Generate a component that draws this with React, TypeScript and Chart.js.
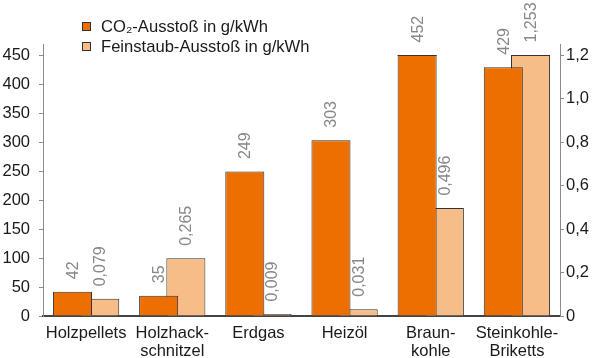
import React, { useEffect, useRef } from 'react';
import { Chart, registerables } from 'chart.js';

Chart.register(...registerables);

const categories: string[][] = [
  ['Holzpellets'],
  ['Holzhack-', 'schnitzel'],
  ['Erdgas'],
  ['Heizöl'],
  ['Braun-', 'kohle'],
  ['Steinkohle-', 'Briketts'],
];
const co2Values = [42, 35, 249, 303, 452, 429];
const dustValues = [0.079, 0.265, 0.009, 0.031, 0.496, 1.253];
const seriesNames = ['CO₂-Ausstoß in g/kWh', 'Feinstaub-Ausstoß in g/kWh'];
const leftAxis = { min: 0, max: 450, step: 50 };
const rightAxis = { min: 0, max: 1.2, step: 0.2 };

const DARK = '#ED6F02';
const LIGHT = '#F7BD89';
const FONT = "'Liberation Sans', Arial, sans-serif";

const fmtDust = (v: number) => v.toFixed(3).replace('.', ',');

const overlayPlugin = {
  id: 'overlay',
  afterDatasetsDraw(chart: any) {
    const { ctx, chartArea } = chart;
    ctx.save();
    chart.data.datasets.forEach((ds: any, di: number) => {
      const meta = chart.getDatasetMeta(di);
      meta.data.forEach((el: any, i: number) => {
        const top = Math.max(el.y, chartArea.top);
        if (el.y < chartArea.top) {
          ctx.strokeStyle = '#333';
          ctx.lineWidth = 1;
          ctx.beginPath();
          ctx.moveTo(el.x - el.width / 2, chartArea.top + 0.5);
          ctx.lineTo(el.x + el.width / 2, chartArea.top + 0.5);
          ctx.stroke();
        }
        const raw = ds.data[i] as number;
        const text = di === 0 ? String(raw) : fmtDust(raw);
        ctx.save();
        ctx.translate(el.x + 1, top - 12.5);
        ctx.rotate(-Math.PI / 2);
        ctx.fillStyle = '#878787';
        ctx.font = `16px ${FONT}`;
        ctx.textAlign = 'left';
        ctx.textBaseline = 'middle';
        ctx.fillText(text, 0, 0);
        ctx.restore();
      });
    });
    ctx.restore();
  },
  afterDraw(chart: any) {
    const { ctx, chartArea } = chart;
    ctx.save();
    // axis line extensions above the top tick
    ctx.strokeStyle = '#8c8c8c';
    ctx.lineWidth = 1;
    ctx.beginPath();
    ctx.moveTo(Math.round(chartArea.left) + 0.5, 44);
    ctx.lineTo(Math.round(chartArea.left) + 0.5, chartArea.top);
    ctx.moveTo(Math.round(chartArea.right) + 0.5, 44);
    ctx.lineTo(Math.round(chartArea.right) + 0.5, chartArea.top);
    ctx.stroke();
    // legend
    const colors = [DARK, LIGHT];
    ctx.font = `16.6px ${FONT}`;
    ctx.textBaseline = 'middle';
    ctx.textAlign = 'left';
    seriesNames.forEach((name, i) => {
      const y = 22 + i * 20;
      ctx.fillStyle = colors[i];
      ctx.fillRect(82, y, 9, 9);
      ctx.strokeStyle = '#333';
      ctx.strokeRect(82.5, y + 0.5, 8, 8);
      ctx.fillStyle = '#1a1a1a';
      ctx.fillText(name, 101, y + 5);
    });
    ctx.restore();
  },
};

export default function App() {
  const ref = useRef<HTMLCanvasElement>(null);
  useEffect(() => {
    if (!ref.current) return;
    const chart = new Chart(ref.current, {
      type: 'bar',
      data: {
        labels: categories,
        datasets: [
          {
            label: seriesNames[0],
            data: co2Values,
            backgroundColor: DARK,
            borderColor: '#333',
            borderWidth: 1,
            yAxisID: 'y',
            categoryPercentage: 0.632,
            barPercentage: 1.434,
          },
          {
            label: seriesNames[1],
            data: dustValues,
            backgroundColor: LIGHT,
            borderColor: '#333',
            borderWidth: 1,
            yAxisID: 'y1',
            categoryPercentage: 0.632,
            barPercentage: 1.434,
          },
        ],
      },
      options: {
        responsive: false,
        maintainAspectRatio: false,
        animation: false,
        layout: { padding: { top: 55, left: 0, right: 0, bottom: 0 } },
        plugins: { legend: { display: false }, tooltip: { enabled: false } },
        scales: {
          x: {
            grid: { display: false },
            border: { display: true, color: '#444', width: 2 },
            ticks: {
              color: '#1a1a1a',
              font: { family: FONT, size: 16.5, lineHeight: 1.12 },
              padding: 0,
              maxRotation: 0,
              autoSkip: false,
            },
            afterFit: (s: any) => {
              s.height = 42;
            },
          },
          y: {
            position: 'left',
            min: leftAxis.min,
            max: leftAxis.max,
            grid: { display: true, drawOnChartArea: false, drawTicks: true, tickLength: 4, color: '#8c8c8c' },
            border: { display: true, color: '#8c8c8c', width: 1 },
            ticks: {
              stepSize: leftAxis.step,
              color: '#1a1a1a',
              font: { family: FONT, size: 16.5 },
              padding: 9,
            },
            afterFit: (s: any) => {
              s.width = 43;
            },
          },
          y1: {
            position: 'right',
            min: rightAxis.min,
            max: rightAxis.max,
            grid: { display: true, drawOnChartArea: false, drawTicks: true, tickLength: 4, color: '#8c8c8c' },
            border: { display: true, color: '#8c8c8c', width: 1 },
            ticks: {
              stepSize: rightAxis.step,
              color: '#1a1a1a',
              font: { family: FONT, size: 16.5 },
              padding: 2,
              callback: (v: any) => (Number(v) === 0 ? '0' : Number(v).toFixed(1).replace('.', ',')),
            },
            afterFit: (s: any) => {
              s.width = 40;
            },
          },
        },
      },
      plugins: [overlayPlugin],
    } as any);
    return () => chart.destroy();
  }, []);
  return (
    <div style={{ position: 'fixed', left: 0, top: 0, width: 600, height: 358, background: '#fff' }}>
      <canvas ref={ref} width={600} height={358} style={{ display: 'block' }} />
    </div>
  );
}
